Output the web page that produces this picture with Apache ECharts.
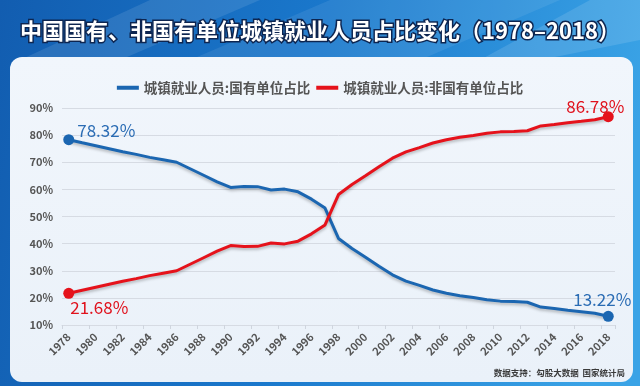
<!DOCTYPE html>
<html><head><meta charset="utf-8">
<script src="https://cdn.jsdelivr.net/npm/echarts@6/dist/echarts.min.js"></script>
<style>html,body{margin:0;padding:0;}#c{width:640px;height:386px;}</style>
</head><body><div id="c"></div>
<script>
const years = ['1978','1979','1980','1981','1982','1983','1984','1985','1986','1987','1988','1989','1990','1991','1992','1993','1994','1995','1996','1997','1998','1999','2000','2001','2002','2003','2004','2005','2006','2007','2008','2009','2010','2011','2012','2013','2014','2015','2016','2017','2018'];
const stateShare = [78.32,77.2,76.1,75.0,73.9,72.9,71.8,70.9,70.0,67.6,65.2,62.8,60.7,61.1,61.0,59.8,60.1,59.1,56.4,53.1,41.9,38.2,35.0,31.7,28.5,26.2,24.6,22.9,21.7,20.8,20.1,19.3,18.8,18.7,18.4,16.6,16.1,15.4,14.9,14.3,13.22];
const nonStateShare = [21.68,22.8,23.9,25.0,26.1,27.1,28.2,29.1,30.0,32.4,34.8,37.2,39.3,38.9,39.0,40.2,39.9,40.9,43.6,46.9,58.1,61.8,65.0,68.3,71.5,73.8,75.4,77.1,78.3,79.2,79.9,80.7,81.2,81.3,81.6,83.4,83.9,84.6,85.1,85.7,86.78];
const seriesNames = ['城镇就业人员:国有单位占比','城镇就业人员:非国有单位占比'];
const titleText = '中国国有、非国有单位城镇就业人员占比变化（1978–2018）';
const sourceText = '数据支持：勾股大数据  国家统计局';

const FONT = '"Noto Sans CJK SC", "Noto Sans", sans-serif';
const BLUE = '#1b66b1', RED = '#e5121b';

function build(values, firstLabel, lastLabel) {
  return values.map((v, i) => {
    if (i === 0) return {value: v, symbol: 'circle', symbolSize: 11, label: Object.assign({show: true}, firstLabel)};
    if (i === values.length - 1) return {value: v, symbol: 'circle', symbolSize: 11, label: Object.assign({show: true}, lastLabel)};
    return {value: v};
  });
}
const labelBase = c => ({fontSize: 17, color: c, fontFamily: FONT, formatter: p => p.value.toFixed(2) + '%'});

const chart = echarts.init(document.getElementById('c'), null, {renderer: 'canvas'});
chart.setOption({
  animation: false,
  textStyle: {fontFamily: FONT},
  graphic: [
    {type: 'rect', z: -10, shape: {x: 0, y: 0, width: 640, height: 386},
     style: {fill: new echarts.graphic.LinearGradient(0, 0, 1, 0.3, [{offset: 0, color: '#125db0'}, {offset: 0.5, color: '#1a78cc'}, {offset: 1, color: '#3aa3e6'}])}},
    {type: 'polygon', z: -9, shape: {points: [[150, 0], [260, 0], [120, 60], [20, 60]]}, style: {fill: 'rgba(255,255,255,0.10)'}},
    {type: 'polygon', z: -9, shape: {points: [[330, 0], [560, 0], [420, 60], [190, 60]]}, style: {fill: 'rgba(255,255,255,0.08)'}},
    {type: 'polygon', z: -9, shape: {points: [[590, 0], [640, 0], [640, 40], [540, 60], [480, 60]]}, style: {fill: 'rgba(255,255,255,0.12)'}},
    {type: 'rect', z: -8, shape: {x: 10, y: 57, width: 623, height: 325, r: 12},
     style: {fill: new echarts.graphic.LinearGradient(0, 0, 0, 1, [{offset: 0, color: '#f1f6fc'}, {offset: 1, color: '#eaf1f9'}])}},
    {type: 'text', z: 5, right: 15, top: 369, style: {text: sourceText, fontSize: 8.5, fontWeight: 'bold', fill: '#3a3a3a', fontFamily: FONT}}
  ],
  title: {
    text: titleText, left: 'center', top: 15,
    textStyle: {fontSize: 22, fontWeight: 'bold', color: '#ffffff', fontFamily: FONT, textBorderColor: '#0d2550', textBorderWidth: 3}
  },
  legend: {
    top: 76, left: 'center', itemGap: 6, itemWidth: 22, itemHeight: 4, icon: 'rect',
    textStyle: {fontSize: 13.5, fontWeight: 'bold', color: '#555', fontFamily: FONT},
    data: seriesNames
  },
  grid: {left: 62, right: 25, top: 108, bottom: 61, containLabel: false},
  xAxis: {
    type: 'category', data: years, boundaryGap: true,
    axisLine: {show: true, lineStyle: {color: '#d6dbe3'}},
    axisTick: {show: true, interval: 1, length: 4, lineStyle: {color: '#cfd5de'}},
    axisLabel: {interval: 1, rotate: 45, fontSize: 11, fontWeight: 'bold', color: '#555', margin: 10, fontFamily: FONT}
  },
  yAxis: {
    type: 'value', min: 10, max: 90, interval: 10,
    axisLine: {show: false}, axisTick: {show: false},
    axisLabel: {formatter: '{value}%', fontSize: 11, fontWeight: 'bold', color: '#555', margin: 9, fontFamily: FONT},
    splitLine: {lineStyle: {color: '#d6dbe3', width: 1}}
  },
  series: [
    {name: seriesNames[0], type: 'line', symbol: 'none', color: BLUE,
     lineStyle: {width: 3, color: BLUE, shadowColor: 'rgba(0,0,0,0.25)', shadowBlur: 3, shadowOffsetY: 2},
     itemStyle: {color: BLUE},
     data: build(stateShare,
       Object.assign(labelBase('#2a6cb4'), {position: 'right', distance: 3, offset: [0, -9]}),
       Object.assign(labelBase('#2a6cb4'), {position: 'top', distance: 3, offset: [-6, 0]}))},
    {name: seriesNames[1], type: 'line', symbol: 'none', color: RED,
     lineStyle: {width: 3, color: RED, shadowColor: 'rgba(0,0,0,0.25)', shadowBlur: 3, shadowOffsetY: 2},
     itemStyle: {color: RED},
     data: build(nonStateShare,
       Object.assign(labelBase('#e0121d'), {position: 'right', distance: 3, offset: [-7, 14]}),
       Object.assign(labelBase('#e0121d'), {position: 'top', distance: 0, offset: [-13, 4]}))}
  ]
});
</script></body></html>
